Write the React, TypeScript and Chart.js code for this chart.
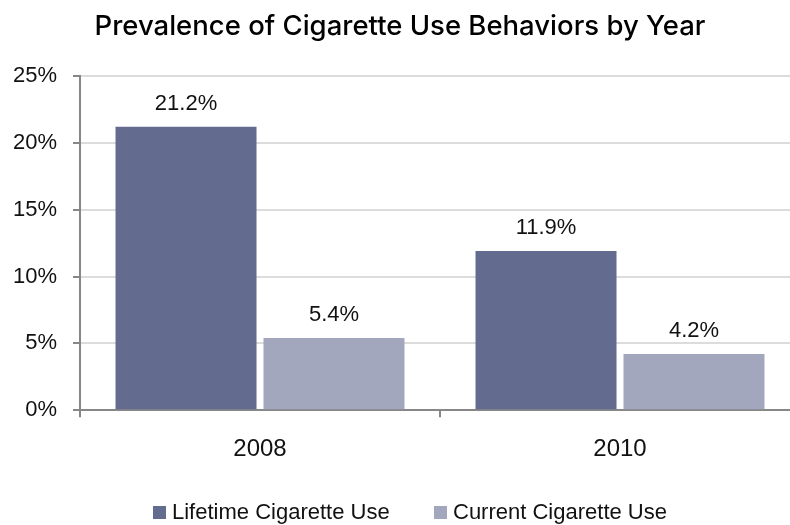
import React, { useEffect, useRef } from "react";
import { Chart, registerables } from "chart.js";

Chart.register(...registerables);

// Survey years and prevalence values (percent)
const years = ["2008", "2010"];
const lifetimeUse = [21.2, 11.9];
const currentUse = [5.4, 4.2];
const seriesNames = ["Lifetime Cigarette Use", "Current Cigarette Use"];
const seriesColors = ["#636B8E", "#A3A7BD"];
const yMax = 25;
const yStep = 5;

const TEXT_FONT = '"Liberation Sans", Arial, sans-serif';
const TITLE_FONT = 'Inter, "Liberation Sans", Arial, sans-serif';

// Writes each bar's value above it
const valueLabels = {
  id: "valueLabels",
  afterDatasetsDraw(chart: any) {
    const ctx = chart.ctx;
    ctx.save();
    ctx.font = `22px ${TEXT_FONT}`;
    ctx.fillStyle = "#111";
    ctx.textAlign = "center";
    ctx.textBaseline = "middle";
    chart.data.datasets.forEach((ds: any, di: number) => {
      const meta = chart.getDatasetMeta(di);
      meta.data.forEach((bar: any, i: number) => {
        const v = ds.data[i] as number;
        ctx.fillText(v.toFixed(1) + "%", bar.x, bar.y - 23);
      });
    });
    ctx.restore();
  },
};

export default function App() {
  const canvasRef = useRef<HTMLCanvasElement | null>(null);

  useEffect(() => {
    if (!canvasRef.current) return;
    const chart = new Chart(canvasRef.current, {
      type: "bar",
      data: {
        labels: years,
        datasets: [
          {
            label: seriesNames[0],
            data: lifetimeUse,
            backgroundColor: seriesColors[0],
            categoryPercentage: 0.822,
            barPercentage: 0.953,
          },
          {
            label: seriesNames[1],
            data: currentUse,
            backgroundColor: seriesColors[1],
            categoryPercentage: 0.822,
            barPercentage: 0.953,
          },
        ],
      },
      options: {
        responsive: false,
        animation: false,
        devicePixelRatio: 1,
        layout: { padding: { left: 0, right: 10, top: 0, bottom: 43 } },
        plugins: {
          legend: { display: false },
          tooltip: { enabled: false },
          title: {
            display: true,
            text: "Prevalence of Cigarette Use Behaviors by Year",
            color: "#000",
            font: { family: TITLE_FONT, size: 27.5, weight: "500" },
            padding: { top: 10, bottom: 33 },
          },
        },
        scales: {
          x: {
            grid: {
              offset: true,
              drawOnChartArea: false,
              tickLength: 7,
              tickColor: "#878787",
              lineWidth: 2,
            },
            border: { color: "#878787", width: 2 },
            ticks: {
              color: "#111",
              padding: 18,
              font: { family: TEXT_FONT, size: 24 },
            },
          },
          y: {
            min: 0,
            max: yMax,
            afterFit(scale: any) {
              scale.width = 80;
            },
            ticks: {
              stepSize: yStep,
              color: "#111",
              padding: 16,
              font: { family: TEXT_FONT, size: 22 },
              callback: (v: any) => `${v}%`,
            },
            grid: {
              color: "#DCDCDC",
              lineWidth: 2,
              tickLength: 7,
              tickColor: "#878787",
            },
            border: { color: "#878787", width: 2 },
          },
        },
      },
      plugins: [valueLabels],
    });
    return () => chart.destroy();
  }, []);

  const legendItem = (i: number, left: number) => (
    <div
      key={i}
      style={{
        position: "absolute",
        left,
        top: 499,
        height: 26,
        display: "flex",
        alignItems: "center",
        font: `22px ${TEXT_FONT}`,
        color: "#111",
        whiteSpace: "nowrap",
      }}
    >
      <span
        style={{
          display: "inline-block",
          width: 13,
          height: 13,
          background: seriesColors[i],
          marginRight: 6,
        }}
      />
      {seriesNames[i]}
    </div>
  );

  return (
    <div
      style={{
        position: "fixed",
        left: 0,
        top: 0,
        width: 790,
        height: 525,
        overflow: "hidden",
        background: "#fff",
      }}
    >
      <canvas
        ref={canvasRef}
        width={810}
        height={525}
        style={{ position: "absolute", left: 0, top: 0, display: "block" }}
      />
      {legendItem(0, 153)}
      {legendItem(1, 434)}
    </div>
  );
}
